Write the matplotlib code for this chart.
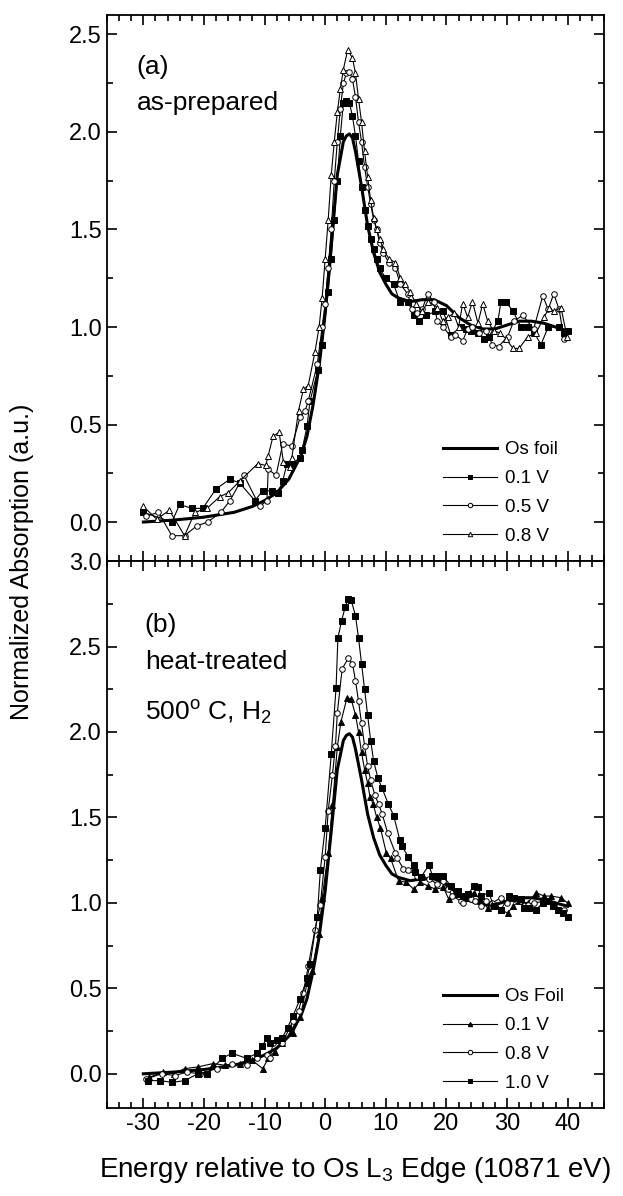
import matplotlib
matplotlib.use("Agg")
import matplotlib.pyplot as plt
from matplotlib.ticker import MultipleLocator

plt.rcParams['font.family'] = ['Liberation Sans', 'DejaVu Sans']
plt.rcParams['mathtext.fontset'] = 'custom'
plt.rcParams['mathtext.rm'] = 'Liberation Sans'
plt.rcParams['mathtext.it'] = 'Liberation Sans:italic'
plt.rcParams['axes.unicode_minus'] = False

# Os foil reference (same foil in both panels)
os_foil = [(-30, 0.0), (-25, 0.01), (-20, 0.025), (-15, 0.05), (-12, 0.08), (-10, 0.11),
           (-8, 0.15), (-6, 0.22), (-5, 0.28), (-4, 0.34), (-3, 0.44), (-2, 0.6), (-1, 0.8),
           (0, 1.07), (1, 1.42), (2, 1.78), (3, 1.95), (3.5, 1.98), (4, 1.99), (4.5, 1.97),
           (5, 1.9), (6, 1.72), (7, 1.52), (8, 1.38), (9, 1.28), (10, 1.22), (11, 1.17),
           (12, 1.15), (14, 1.13), (16, 1.14), (18, 1.14), (20, 1.11), (22, 1.05), (24, 1.01),
           (26, 0.99), (28, 0.99), (30, 1.01), (32, 1.03), (34, 1.03), (36, 1.02), (38, 1.0),
           (40, 0.98)]

# (a) as-prepared
a_01V = [(-30, 0.05), (-25.3, 0.0), (-24, 0.09), (-22, 0.07), (-20.2, 0.07), (-18, 0.17),
         (-15.7, 0.22), (-14.1, 0.2), (-11.6, 0.11), (-10.3, 0.16), (-8.8, 0.16), (-7.8, 0.15),
         (-7, 0.21), (-6.3, 0.3), (-5.5, 0.3), (-4.1, 0.33), (-3.8, 0.37), (-3, 0.49),
         (-2.5, 0.62), (-1.2, 0.78), (-0.5, 0.91), (0.5, 1.18), (1, 1.35), (1.5, 1.55), (2, 1.75),
         (2.5, 1.98), (3, 2.15), (3.5, 2.16), (4, 2.15), (4.5, 2.08), (5, 1.98), (5.5, 1.85),
         (6, 1.72), (6.5, 1.6), (7, 1.52), (7.5, 1.45), (8, 1.4), (8.5, 1.35), (9, 1.3),
         (10, 1.25), (11.3, 1.22), (12.3, 1.13), (13.7, 1.13), (14.6, 1.06), (15.4, 1.03),
         (16.7, 1.06), (18.2, 1.08), (19.5, 1.08), (20.7, 0.96), (22.4, 1.0), (23.2, 0.99),
         (24, 0.98), (25.2, 0.97), (26.2, 0.94), (27, 0.95), (28.5, 1.03), (29, 1.13),
         (29.8, 1.13), (31, 1.08), (32.3, 1.0), (33.4, 1.0), (34.5, 0.97), (35.6, 0.91),
         (36.8, 1.0), (38.6, 1.0), (39.4, 0.97), (40, 0.98)]

a_05V = [(-29.5, 0.03), (-27.5, 0.05), (-25.3, -0.07), (-23.2, -0.07), (-21.2, -0.02),
         (-19.4, 0.0), (-17.2, 0.05), (-15.7, 0.11), (-13.4, 0.24), (-10.8, 0.08), (-9.6, 0.11),
         (-9.4, 0.27), (-8.1, 0.24), (-7, 0.4), (-5.5, 0.39), (-4.1, 0.54), (-3.3, 0.57),
         (-2.8, 0.62), (-1.3, 0.81), (-0.5, 1.0), (0, 1.12), (0.5, 1.3), (1, 1.5), (1.5, 1.75),
         (2, 1.95), (2.5, 2.12), (3, 2.25), (3.5, 2.3), (4, 2.31), (4.5, 2.27), (5, 2.18),
         (5.5, 2.05), (6, 1.95), (6.5, 1.82), (7, 1.72), (7.5, 1.63), (8, 1.55), (8.5, 1.5),
         (9, 1.43), (9.6, 1.38), (10.5, 1.33), (11.6, 1.3), (12.4, 1.22), (13.6, 1.17),
         (14.4, 1.09), (15.2, 1.07), (16, 1.09), (16.9, 1.17), (17.9, 1.13), (18.5, 1.03),
         (19.5, 1.0), (20.7, 0.95), (21.5, 0.96), (22.7, 0.93), (23.5, 0.99), (24.3, 1.0),
         (25.3, 0.97), (26.5, 0.98), (27.6, 0.91), (28.6, 0.9), (30.1, 0.95), (31.1, 1.03),
         (32.6, 1.06), (34.4, 0.99), (35.9, 1.16), (36.8, 1.09), (37.7, 1.17), (38.6, 1.09),
         (39.4, 0.94)]

a_08V = [(-30, 0.08), (-27.8, 0.015), (-25.7, 0.06), (-23.2, -0.07), (-21.5, 0.05),
         (-19.5, 0.07), (-17.4, 0.13), (-16, 0.15), (-14.1, 0.21), (-11.1, 0.3), (-9.8, 0.29),
         (-9.4, 0.34), (-8.6, 0.44), (-7.6, 0.46), (-6.9, 0.31), (-5.8, 0.28), (-5.5, 0.33),
         (-4.4, 0.57), (-3.6, 0.68), (-2.8, 0.7), (-1.7, 0.87), (-1, 1.0), (-0.5, 1.15),
         (0, 1.35), (0.5, 1.55), (1, 1.78), (1.5, 1.95), (2, 2.1), (2.5, 2.22), (3, 2.32),
         (3.7, 2.42), (4.5, 2.38), (5, 2.3), (5.5, 2.17), (6, 2.05), (6.5, 1.9), (7, 1.77),
         (7.5, 1.65), (8, 1.56), (8.5, 1.5), (9, 1.45), (9.6, 1.4), (10.5, 1.35), (11.6, 1.33),
         (12.4, 1.25), (13.2, 1.22), (14, 1.18), (15, 1.12), (16, 1.08), (17, 1.13),
         (18.5, 1.1), (19.4, 1.03), (20.2, 1.05), (21.2, 1.07), (22, 1.0), (22.7, 1.12),
         (23.5, 1.05), (24.3, 1.13), (25.2, 1.02), (26, 1.12), (26.8, 1.03), (27.8, 0.98),
         (28.8, 0.97), (29.8, 0.94), (31, 0.89), (32, 0.89), (33.4, 0.95), (34.8, 0.97),
         (36.1, 1.05), (37, 1.1), (37.7, 1.08), (38.9, 1.1), (39.9, 0.95)]

# (b) heat-treated 500 C, H2
b_01V = [(-29, -0.02), (-26.8, 0.01), (-25, 0.0), (-23.2, 0.03), (-21, 0.04), (-18.5, 0.06),
         (-16.5, 0.05), (-14.1, 0.06), (-12.1, 0.08), (-10.3, 0.03), (-9.4, 0.09), (-8.3, 0.13),
         (-7.1, 0.18), (-5.3, 0.24), (-4.1, 0.33), (-3, 0.53), (-2.2, 0.6), (-1, 0.82),
         (-0.5, 1.03), (0.5, 1.29), (1.2, 1.57), (2, 1.91), (2.6, 2.06), (3.6, 2.2), (4.3, 2.19),
         (5, 2.1), (5.5, 2.0), (6, 1.88), (6.5, 1.78), (7, 1.7), (7.4, 1.62), (7.9, 1.58),
         (8.5, 1.5), (9.1, 1.44), (10.1, 1.29), (10.8, 1.26), (12.1, 1.13), (13.4, 1.12),
         (14.6, 1.08), (15.7, 1.12), (16.9, 1.1), (18.2, 1.08), (19.5, 1.09), (20.4, 1.02),
         (21.2, 1.05), (22, 1.05), (23.2, 1.03), (24.5, 1.06), (25.6, 1.02), (26.8, 0.97),
         (28.1, 0.99), (29, 0.96), (30.1, 0.94), (31, 0.98), (32, 1.01), (33.4, 1.0),
         (34.8, 1.06), (36.1, 1.04), (37.3, 1.04), (38.9, 1.03), (40, 1.0)]

b_08V = [(-29.5, -0.03), (-27, 0.0), (-24.8, -0.01), (-22.8, 0.01), (-20.7, 0.0), (-17.9, 0.03),
         (-15.4, 0.06), (-12.9, 0.05), (-11.3, 0.09), (-9.6, 0.11), (-9.1, 0.09), (-8.6, 0.18),
         (-7.1, 0.18), (-5.3, 0.31), (-4.4, 0.37), (-3.6, 0.47), (-2.8, 0.63), (-1.7, 0.84),
         (-0.8, 0.99), (0, 1.27), (0.5, 1.54), (1.2, 1.75), (1.7, 1.92), (2, 2.11), (2.8, 2.37),
         (3.8, 2.43), (4.5, 2.4), (5, 2.3), (5.5, 2.18), (6, 2.05), (6.5, 1.92), (7, 1.8),
         (7.5, 1.72), (8.2, 1.63), (8.8, 1.58), (9.4, 1.52), (10.3, 1.41), (11.6, 1.29),
         (11.9, 1.26), (12.9, 1.2), (13.7, 1.19), (15.2, 1.16), (16, 1.15), (17.2, 1.14),
         (18.5, 1.11), (19.4, 1.13), (20.2, 1.08), (21, 1.04), (22.4, 1.01), (22.7, 1.0),
         (24, 1.02), (24.8, 1.01), (25.7, 0.98), (26.6, 1.01), (27.6, 1.0), (29, 1.03),
         (30, 1.0), (31.1, 1.02), (32.3, 1.01), (33.4, 0.99), (34.4, 1.0), (36.4, 1.01),
         (37.7, 0.98), (39.4, 0.96)]

b_10V = [(-29.3, -0.04), (-27.3, -0.04), (-25.2, -0.05), (-23.2, -0.04), (-21, 0.0), (-19.5, 0.0),
         (-17, 0.09), (-15.4, 0.12), (-12.9, 0.09), (-11.3, 0.12), (-10.4, 0.16), (-9.6, 0.21),
         (-9.1, 0.18), (-7.9, 0.2), (-7.1, 0.21), (-6.2, 0.27), (-5.3, 0.34), (-4.1, 0.44),
         (-3, 0.56), (-2.5, 0.64), (-1.3, 0.92), (-0.8, 1.19), (0, 1.44), (1, 1.87), (1.8, 2.26),
         (2.1, 2.55), (2.7, 2.65), (3.3, 2.73), (3.8, 2.78), (4.3, 2.77), (5, 2.68), (5.5, 2.55),
         (6, 2.4), (6.5, 2.25), (7, 2.1), (7.5, 1.95), (8, 1.83), (8.7, 1.73), (9.4, 1.67),
         (10.4, 1.58), (11.3, 1.51), (12.3, 1.37), (12.7, 1.33), (13.7, 1.27), (14.6, 1.22),
         (14.9, 1.18), (15.8, 1.15), (17.1, 1.22), (17.7, 1.16), (18.5, 1.16), (19.4, 1.16),
         (20.7, 1.1), (21.9, 1.07), (22.7, 1.04), (23.6, 1.05), (24.5, 1.1), (25.2, 1.09),
         (25.7, 1.04), (27, 1.06), (27.8, 0.98), (29, 0.96), (30.3, 1.04), (31.1, 1.03),
         (32.3, 1.02), (32.8, 0.97), (33.6, 0.97), (34.8, 0.96), (35.9, 1.0), (36.8, 1.01),
         (37.6, 0.98), (38.4, 0.96), (39.2, 0.94), (40, 0.92)]


def xy(pts):
    return [p[0] for p in pts], [p[1] for p in pts]


def style_axes(ax, ymax):
    ax.set_xlim(-36, 46)
    ax.set_ylim(-0.2, ymax)
    ax.xaxis.set_major_locator(MultipleLocator(10))
    ax.xaxis.set_minor_locator(MultipleLocator(2))
    ax.yaxis.set_major_locator(MultipleLocator(0.5))
    ax.yaxis.set_minor_locator(MultipleLocator(0.25))
    ax.tick_params(which='both', direction='in', top=True, right=True, labelsize=17, width=1.2)
    ax.tick_params(which='major', length=7)
    ax.tick_params(which='minor', length=4)
    for s in ax.spines.values():
        s.set_linewidth(1.3)


fig = plt.figure(figsize=(6.23, 11.96), dpi=100)
ax1 = fig.add_axes([0.1717, 0.5309, 0.7978, 0.4566])
ax2 = fig.add_axes([0.1717, 0.0736, 0.7978, 0.4573])

line_kw = dict(color='black', lw=0.8, ms=4, mew=0.7)

# panel (a)
x, y = xy(os_foil)
ax1.plot(x, y, color='black', lw=2.2, label='Os foil')
x, y = xy(a_01V)
ax1.plot(x, y, marker='s', mfc='black', label='0.1 V', **line_kw)
x, y = xy(a_05V)
ax1.plot(x, y, marker='o', mfc='white', label='0.5 V', **line_kw)
x, y = xy(a_08V)
ax1.plot(x, y, marker='^', mfc='white', label='0.8 V', **line_kw)
style_axes(ax1, 2.6)
ax1.set_xticklabels([])
ax1.text(0.06, 0.905, '(a)', transform=ax1.transAxes, fontsize=19, va='center')
ax1.text(0.06, 0.839, 'as-prepared', transform=ax1.transAxes, fontsize=19, va='center')

# panel (b)
x, y = xy(os_foil)
ax2.plot(x, y, color='black', lw=2.2, label='Os Foil')
x, y = xy(b_01V)
ax2.plot(x, y, marker='^', mfc='black', label='0.1 V', **line_kw)
x, y = xy(b_08V)
ax2.plot(x, y, marker='o', mfc='white', label='0.8 V', **line_kw)
x, y = xy(b_10V)
ax2.plot(x, y, marker='s', mfc='black', label='1.0 V', **line_kw)
style_axes(ax2, 3.0)
ax2.text(0.076, 0.883, '(b)', transform=ax2.transAxes, fontsize=19, va='center')
ax2.text(0.076, 0.815, 'heat-treated', transform=ax2.transAxes, fontsize=19, va='center')
ax2.text(0.076, 0.722, '500$^{\\rm o}$ C, H$_2$', transform=ax2.transAxes, fontsize=19, va='center')

for ax in (ax1, ax2):
    leg = ax.legend(loc='lower left', bbox_to_anchor=(0.676, 0.03), frameon=False,
                    fontsize=13.5, handlelength=2.9, handletextpad=0.4, labelspacing=0.62,
                    borderpad=0, borderaxespad=0, markerscale=0.8)

fig.text(0.035, 0.53, 'Normalized Absorption (a.u.)', rotation=90, fontsize=18,
         ha='center', va='center')
fig.text(0.57, 0.022, 'Energy relative to Os L$_3$ Edge (10871 eV)', fontsize=20,
         ha='center', va='center')

fig.savefig('out.png', dpi=100)
